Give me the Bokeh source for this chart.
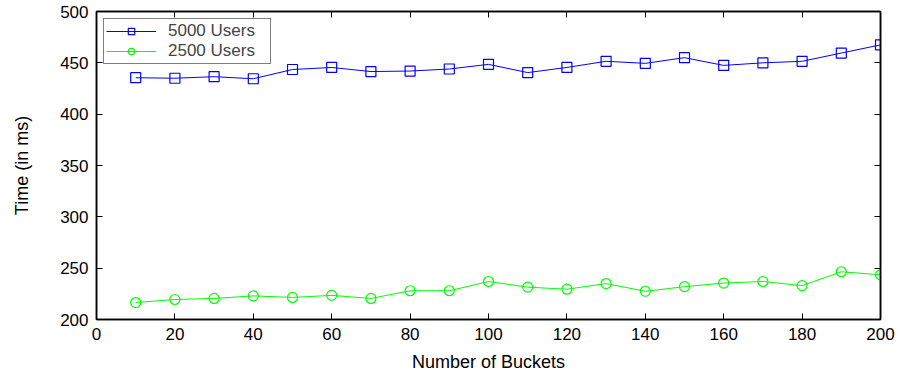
from bokeh.plotting import figure
from bokeh.models import Range1d, LinearAxis, FixedTicker, Legend, LegendItem
from bokeh.embed import file_html
from bokeh.resources import INLINE

buckets = [10, 20, 30, 40, 50, 60, 70, 80, 90, 100, 110, 120, 130, 140, 150, 160, 170, 180, 190, 200]
users5000 = [435.5, 435, 436.5, 434.5, 443.5, 445.5, 441.5, 442, 444, 448.5, 440.5, 445.5, 451.5, 449.5, 455, 447.5, 450, 451.5, 459.5, 467.5]
users2500 = [216.5, 219.5, 220.5, 223, 221.5, 223.5, 220.5, 228, 228, 237, 231.5, 229.5, 235, 227.5, 232, 235.5, 237, 233, 246.5, 243.5]
x_ticks = [0, 20, 40, 60, 80, 100, 120, 140, 160, 180, 200]
y_ticks = [200, 250, 300, 350, 400, 450, 500]

FONT = "Liberation Sans"
FS = "17px"

p = figure(width=900, height=381, frame_width=784, frame_height=308,
           min_border_left=96, min_border_right=20, min_border_top=11, min_border_bottom=62,
           x_range=Range1d(0, 200), y_range=Range1d(200, 500),
           output_backend="svg", toolbar_location=None)
p.grid.visible = False
p.outline_line_color = "black"
p.outline_line_width = 1.5
p.background_fill_color = "white"
p.border_fill_color = "white"

for ax in (p.xaxis[0], p.yaxis[0]):
    ax.major_tick_in = 6
    ax.major_tick_out = 0
    ax.minor_tick_line_color = None
    ax.axis_line_color = "black"
    ax.axis_line_width = 1.5
    ax.major_tick_line_width = 1
    ax.major_label_text_font = FONT
    ax.major_label_text_font_size = FS
    ax.major_label_text_color = "black"
    ax.axis_label_text_font = FONT
    ax.axis_label_text_font_size = "18px"
    ax.axis_label_text_font_style = "normal"
    ax.axis_label_text_color = "black"
    ax.major_label_standoff = 8

p.xaxis[0].ticker = FixedTicker(ticks=x_ticks)
p.yaxis[0].ticker = FixedTicker(ticks=y_ticks)
p.xaxis[0].axis_label = "Number of Buckets"
p.yaxis[0].axis_label = "Time (in ms)"
p.xaxis[0].axis_label_standoff = 9
p.yaxis[0].axis_label_standoff = 25

top = LinearAxis(ticker=FixedTicker(ticks=x_ticks), major_tick_in=6, major_tick_out=0,
                 minor_tick_line_color=None, major_label_text_color=None,
                 axis_line_color="black", axis_line_width=1.5)
right = LinearAxis(ticker=FixedTicker(ticks=y_ticks), major_tick_in=6, major_tick_out=0,
                   minor_tick_line_color=None, major_label_text_color=None,
                   axis_line_color="black", axis_line_width=1.5)
p.add_layout(top, "above")
p.add_layout(right, "right")

l1 = p.line(buckets, users5000, line_color="#0000ff", line_width=1)
m1 = p.scatter(buckets, users5000, marker="square", size=10, fill_color=None,
               line_color="#0000ff", line_width=1.2)
l2 = p.line(buckets, users2500, line_color="#00ff00", line_width=1)
m2 = p.scatter(buckets, users2500, marker="circle", size=10, fill_color=None,
               line_color="#00ff00", line_width=1.2)

legend = Legend(items=[LegendItem(label="5000 Users", renderers=[l1, m1]),
                       LegendItem(label="2500 Users", renderers=[l2, m2])],
                location="top_left", border_line_color="black", border_line_width=1.5,
                label_text_font=FONT, label_text_font_size=FS,
                spacing=0, padding=2, margin=7, glyph_width=50, glyph_height=16,
                label_height=16, label_width=100, label_standoff=12,
                background_fill_alpha=1)
p.add_layout(legend, "center")

open("out.html", "w").write(file_html(p, INLINE))
